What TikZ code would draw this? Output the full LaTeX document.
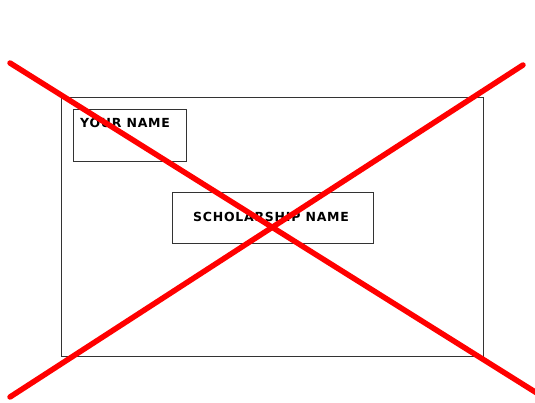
\documentclass[tikz,border=0pt]{standalone}
\usepackage{fontspec}
\setmainfont{DejaVu Sans}
\begin{document}
\begin{tikzpicture}[x=1pt,y=-1pt,
  box/.style={draw=black!80,line width=0.8pt},
  lbl/.style={font=\bfseries\fontsize{12.5}{13}\selectfont\addfontfeature{LetterSpace=6},inner sep=0pt,anchor=west},
  cross/.style={draw=red,line width=5.5pt,line cap=round}]
\useasboundingbox (0,0) rectangle (535,402);
\draw[box] (61,97) rectangle (483,356);
\node[box,minimum width=113pt,minimum height=52pt,inner sep=0pt] (yn) at (129.5,135) {};
\node[lbl] (ynt) at (80,123) {YOUR NAME};
\node[box,minimum width=201pt,minimum height=51pt,inner sep=0pt] (sn) at (272.5,217.5) {};
\node[lbl] (snt) at (193,217) {SCHOLARSHIP NAME};
\coordinate (a1) at (10,63);
\coordinate (a2) at (540,395);
\coordinate (b1) at (523,65);
\coordinate (b2) at (10,397);
\draw[cross] (a1) -- (a2);
\draw[cross] (b1) -- (b2);
\end{tikzpicture}
\end{document}
